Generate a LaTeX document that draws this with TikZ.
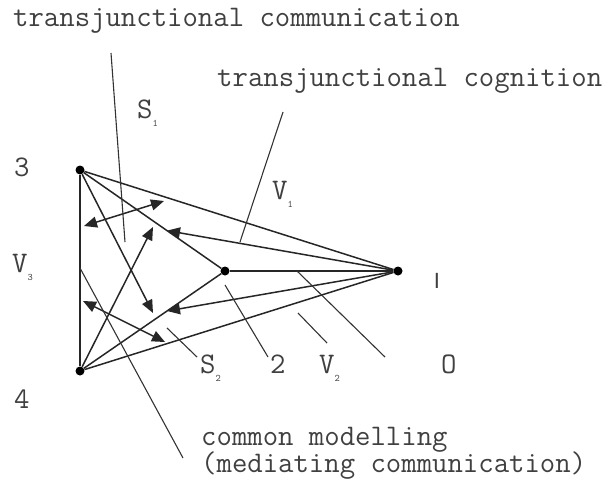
\documentclass[tikz,border=0pt]{standalone}
\usepackage{fontspec}
\setsansfont{Liberation Sans}
\usetikzlibrary{arrows.meta, calc}

\newcommand{\lowsub}[1]{\raisebox{-8pt}{\fontsize{10}{10}\selectfont #1}}

\begin{document}
\begin{tikzpicture}[
    x=1pt, y=-1pt,
    every node/.style={font=\fontsize{29.9}{32}\selectfont\ttfamily, text=black!75, inner sep=0pt},
    link/.style={draw=black!85, line width=1.5pt},
    arr/.style={link, -{Triangle[length=13pt, width=11pt]}},
    dblarr/.style={link, {Triangle[length=13pt, width=11pt]}-{Triangle[length=13pt, width=11pt]}},
    lead/.style={draw=black!80, line width=1.1pt},
    dot/.style={circle, fill=black, minimum size=9pt}
]
\useasboundingbox (0,0) rectangle (615,479);

% points
\node[dot] (p3) at (80,170) {};
\node[dot] (p4) at (80,371) {};
\node[dot] (p2) at (225,271) {};
\node[dot] (pI) at (398,271) {};

% triangle
\draw[link] (p3) -- (p4);
\draw[link] (p3) -- (pI);
\draw[link] (p3) -- (p2);
\draw[link] (p4) -- (p2);
\draw[link] (p4) -- (pI);
\draw[link] (p2) -- (pI);

% arrows
\coordinate (t32) at ($(p3)!0.6!(p2)$);
\coordinate (t42) at ($(p4)!0.6!(p2)$);
\coordinate (t3) at (153,313);
\coordinate (t4) at (153,227);
\coordinate (ua) at (84,226);
\coordinate (ub) at (164,201);
\coordinate (la) at (83,301);
\coordinate (lb) at (165,342);
\draw[arr] (pI) -- (t32);
\draw[arr] (pI) -- (t42);
\draw[arr] (p3) -- (t3);
\draw[arr] (p4) -- (t4);
\draw[dblarr] (ua) -- (ub);
\draw[dblarr] (la) -- (lb);

% texts
\node[anchor=base west] (tcomm) at (13,27) {transjunctional communication};
\node[anchor=base west] (tcog) at (217,86) {transjunctional cognition};
\node[anchor=base west] (cmod) at (201,445) {common modelling};
\node[anchor=base west] (cmed) at (201,472) {(mediating communication)};

\node[anchor=base west] (l3) at (14,176) {3};
\node[anchor=base west] (l4) at (14,408) {4};
\node[anchor=base west] (lV3) at (12,272) {V\lowsub{3}};
\node[anchor=base west] (lV1) at (272,199) {V\lowsub{1}};
\node[anchor=base west] (lS1) at (137,118) {S\lowsub{1}};
\node[anchor=base west] (lS2) at (200,373) {S\lowsub{2}};
\node[anchor=base west] (l2) at (270,373) {2};
\node[anchor=base west] (lV2) at (319,373) {V\lowsub{2}};
\node[anchor=base west] (lO) at (441,373) {O};
\node[anchor=base, font=\fontsize{22}{24}\selectfont\sffamily] (lI) at (437,288) {I};

% leaders
\coordinate (c1a) at (111,53);
\coordinate (c1b) at (125,242);
\coordinate (c2a) at (283,112);
\coordinate (c2b) at (240,242);
\coordinate (c3a) at (80,268);
\coordinate (c3b) at (183,458);
\coordinate (c4a) at (225,285);
\coordinate (c4b) at (268,357);
\coordinate (c5a) at (167,328);
\coordinate (c5b) at (197,357);
\coordinate (c6a) at (298,313);
\coordinate (c6b) at (327,343);
\coordinate (c7a) at (297,271);
\coordinate (c7b) at (385,357);
\draw[lead] (c1a) -- (c1b);
\draw[lead] (c2a) -- (c2b);
\draw[lead] (c3a) -- (c3b);
\draw[lead] (c4a) -- (c4b);
\draw[lead] (c5a) -- (c5b);
\draw[lead] (c6a) -- (c6b);
\draw[lead] (c7a) -- (c7b);
\end{tikzpicture}
\end{document}
